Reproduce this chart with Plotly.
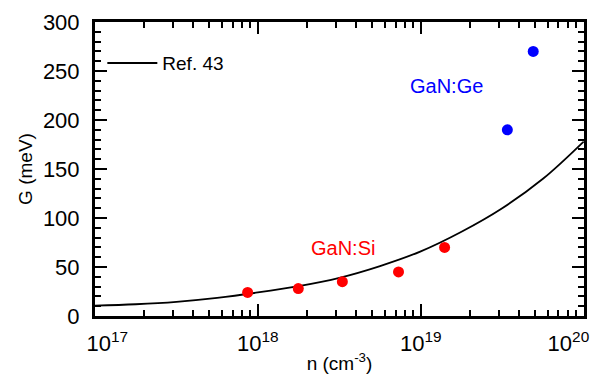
import plotly.graph_objects as go

# Ref. 43 curve
ref_n = [1e17, 1.778e17, 3.162e17, 5.623e17, 1e18, 1.778e18, 3.162e18, 5.623e18,
         1e19, 1.778e19, 3.162e19, 5.623e19, 1e20]
ref_G = [10.5, 12, 14.5, 18.5, 24, 30.5, 39, 51, 66, 86, 110, 140, 178]

# GaN:Si data
si_n = [8.65e17, 1.77e18, 3.3e18, 7.3e18, 1.4e19]
si_G = [24, 28, 35, 45, 70]

# GaN:Ge data
ge_n = [3.4e19, 4.9e19]
ge_G = [190, 270]

# x tick labels
x_tickvals = [1e17, 1e18, 1e19, 1e20]
x_ticktext = ["&nbsp;&nbsp;&nbsp;&nbsp;10<sup>17</sup>", "10<sup>18</sup>", "10<sup>19</sup>",
              "10<sup>20</sup>&nbsp;&nbsp;&nbsp;&nbsp;&nbsp;"]

FONT = "Liberation Sans, Arial, Helvetica, sans-serif"

fig = go.Figure()
fig.add_trace(go.Scatter(x=ref_n, y=ref_G, mode="lines", line=dict(color="black", width=1.8, shape="spline"),
                         name="Ref. 43", showlegend=True))
fig.add_trace(go.Scatter(x=si_n, y=si_G, mode="markers", marker=dict(color="#ff0000", size=11),
                         name="GaN:Si", showlegend=False))
fig.add_trace(go.Scatter(x=ge_n, y=ge_G, mode="markers", marker=dict(color="#0000ff", size=11),
                         name="GaN:Ge", showlegend=False))

fig.add_annotation(x=19.16, y=234.5, xref="x", yref="y", text="GaN:Ge", showarrow=False,
                   font=dict(color="#0000ff", size=20, family=FONT))
fig.add_annotation(x=18.525, y=69.5, xref="x", yref="y", text="GaN:Si", showarrow=False,
                   font=dict(color="#ff0000", size=20, family=FONT))

fig.update_layout(
    width=599, height=382,
    margin=dict(l=95, r=15, t=22, b=66),
    paper_bgcolor="white", plot_bgcolor="white",
    font=dict(family=FONT, size=20, color="black"),
    showlegend=True,
    legend=dict(x=0.015, y=0.86, xanchor="left", yanchor="middle", bgcolor="rgba(0,0,0,0)",
                font=dict(size=19, family=FONT), itemwidth=50),
)
fig.update_xaxes(
    type="log", range=[17, 20.002], tickvals=x_tickvals, ticktext=x_ticktext,
    showline=True, linewidth=3, linecolor="black", mirror="allticks",
    ticks="inside", ticklen=12, tickwidth=2, tickcolor="black",
    minor=dict(ticks="inside", ticklen=6, tickwidth=1.5, tickcolor="black", dtick="D1", showgrid=False),
    showgrid=False, zeroline=False, ticklabelstandoff=6, automargin=False,
    ticklabeloverflow="allow",
    tickfont=dict(size=22, family=FONT),
    title=dict(text="n (cm<sup>-3</sup>)", font=dict(size=19, family=FONT), standoff=2),
)
fig.update_yaxes(
    range=[0, 300], dtick=50,
    showline=True, linewidth=3, linecolor="black", mirror="allticks",
    ticks="inside", ticklen=12, tickwidth=2, tickcolor="black",
    minor=dict(ticks="inside", ticklen=6, tickwidth=1.5, tickcolor="black", dtick=10, showgrid=False),
    showgrid=False, zeroline=False, ticklabelstandoff=8, automargin=False,
    tickfont=dict(size=22, family=FONT),
    title=dict(text="G (meV)", font=dict(size=19, family=FONT), standoff=6),
)

fig.write_html("out.html")
